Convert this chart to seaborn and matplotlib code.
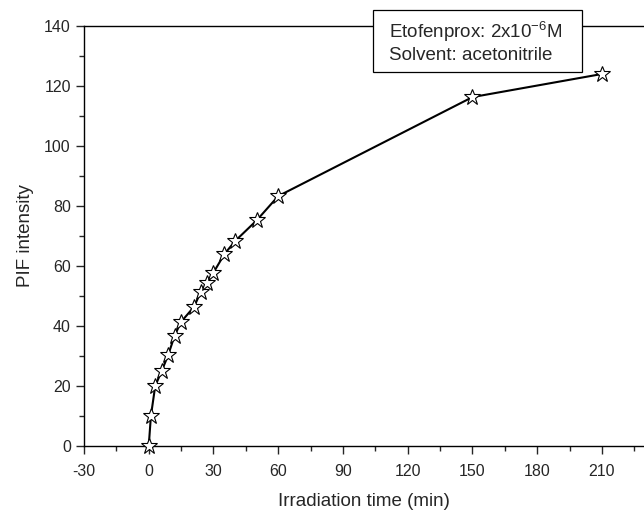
import numpy as np
import pandas as pd
import matplotlib
matplotlib.use("Agg")
import matplotlib.pyplot as plt
from matplotlib.patches import Rectangle
from matplotlib.ticker import MultipleLocator
import seaborn as sns

# data
time_min = [0, 1, 3, 6, 9, 12, 15, 21, 24, 27, 30, 35, 40, 50, 60, 150, 210]
pif_intensity = [0, 10, 20, 25, 30.3, 36.8, 41.4, 46.4, 51.2, 54.4, 57.8, 63.9, 68.3, 75.2, 83.3, 116.3, 124.0]

sns.set_style("ticks")
plt.rcParams["font.family"] = ["Liberation Sans", "DejaVu Sans"]
plt.rcParams["mathtext.fontset"] = "custom"
plt.rcParams["mathtext.rm"] = "Liberation Sans"
plt.rcParams["mathtext.it"] = "Liberation Sans"
plt.rcParams["axes.unicode_minus"] = False

df = pd.DataFrame({"t": time_min, "pif": pif_intensity})

W, H = 644, 512
fig = plt.figure(figsize=(W / 100, H / 100), dpi=100)
ax = fig.add_axes([84 / W, 66 / H, 560 / W, 420 / H])

sns.lineplot(data=df, x="t", y="pif", ax=ax, color="black", lw=1.5,
             marker="*", markersize=12, markerfacecolor="white",
             markeredgecolor="black", markeredgewidth=0.8, clip_on=False, zorder=5)

ax.set_xlim(-30, 229.5)
ax.set_ylim(0, 140)
ax.xaxis.set_major_locator(MultipleLocator(30))
ax.xaxis.set_minor_locator(MultipleLocator(15))
ax.yaxis.set_major_locator(MultipleLocator(20))
ax.yaxis.set_minor_locator(MultipleLocator(10))
ax.tick_params(which="major", length=6, width=1, labelsize=11.5, direction="out")
ax.tick_params(axis="x", which="major", pad=7)
ax.tick_params(which="minor", length=3.5, width=1, direction="out")
for side in ["left", "bottom", "top"]:
    ax.spines[side].set_linewidth(1.0)
    ax.spines[side].set_color("black")
ax.spines["right"].set_visible(False)

ax.set_xlabel("Irradiation time (min)", fontsize=13.5, labelpad=10)
ax.set_ylabel("PIF intensity", fontsize=13.5, labelpad=7)

# annotation box (drawn over the top spine)
fig.patches.append(Rectangle((373 / W, 1 - 72 / H), 209 / W, 62 / H,
                             transform=fig.transFigure, facecolor="white",
                             edgecolor="black", linewidth=0.9, zorder=10))
fig.text(389 / W, 1 - 42 / H,
         "Etofenprox: 2x10$^{-6}$M\nSolvent: acetonitrile",
         fontsize=13.5, va="center", ha="left", linespacing=1.25, zorder=11)

fig.savefig("out.png", dpi=100)
plt.close()
